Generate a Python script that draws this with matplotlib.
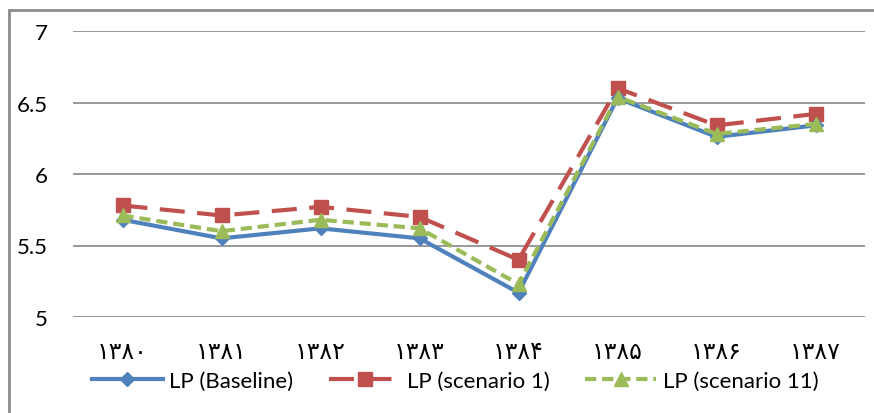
import matplotlib.pyplot as plt
from matplotlib.patches import Rectangle

years = ['۱۳۸۰', '۱۳۸۱', '۱۳۸۲', '۱۳۸۳', '۱۳۸۴', '۱۳۸۵', '۱۳۸۶', '۱۳۸۷']
baseline = [5.68, 5.55, 5.62, 5.55, 5.17, 6.53, 6.26, 6.34]
scenario1 = [5.78, 5.71, 5.77, 5.70, 5.40, 6.60, 6.34, 6.42]
scenario11 = [5.71, 5.60, 5.68, 5.62, 5.23, 6.54, 6.28, 6.35]
yticks = [5, 5.5, 6, 6.5, 7]

fonts = ['Lato', 'DejaVu Sans']
plt.rcParams['font.family'] = fonts

W, H = 874, 414
fig = plt.figure(figsize=(W / 100, H / 100), dpi=100)
ax = fig.add_axes([73 / W, 1 - 318 / H, (865 - 73) / W, (318 - 32) / H])

x = list(range(len(years)))
ax.plot(x, baseline, color='#4F81BD', lw=3, marker='D', ms=7,
        label='LP (Baseline)', zorder=3)
ax.plot(x, scenario1, color='#C0504D', lw=3, ls=(0, (6, 3)), marker='s', ms=10,
        label='LP (scenario 1)', zorder=2)
ax.plot(x, scenario11, color='#9BBB59', lw=3, ls=(0, (2.7, 1.4)), marker='^', ms=10,
        label='LP (scenario 11)', zorder=4)

ax.set_ylim(5, 7)
ax.set_xlim(-0.5, 7.5)
ax.set_yticks(yticks)
ax.set_yticklabels(['5', '5.5', '6', '6.5', '7'])
ax.set_xticks(x)
ax.set_xticklabels(years, fontsize=17)
ax.grid(axis='y', color='#868686', lw=1.2)
ax.set_axisbelow(True)
for s in ax.spines.values():
    s.set_visible(False)
ax.tick_params(axis='both', length=0, colors='black')
ax.tick_params(axis='y', pad=18, labelsize=16)
ax.tick_params(axis='x', pad=17)

fig.legend(loc='center', bbox_to_anchor=(455 / W, 1 - 382 / H), ncol=3, frameon=False,
           fontsize=16, handlelength=3.2, columnspacing=1.6, handletextpad=0.3)

fig.patches.append(Rectangle((9 / W, -0.2), 1.2, 1 - 11 / H + 0.2,
                             transform=fig.transFigure, fill=False,
                             edgecolor='#8C8C8C', lw=2))

fig.savefig('out.png', dpi=100)
